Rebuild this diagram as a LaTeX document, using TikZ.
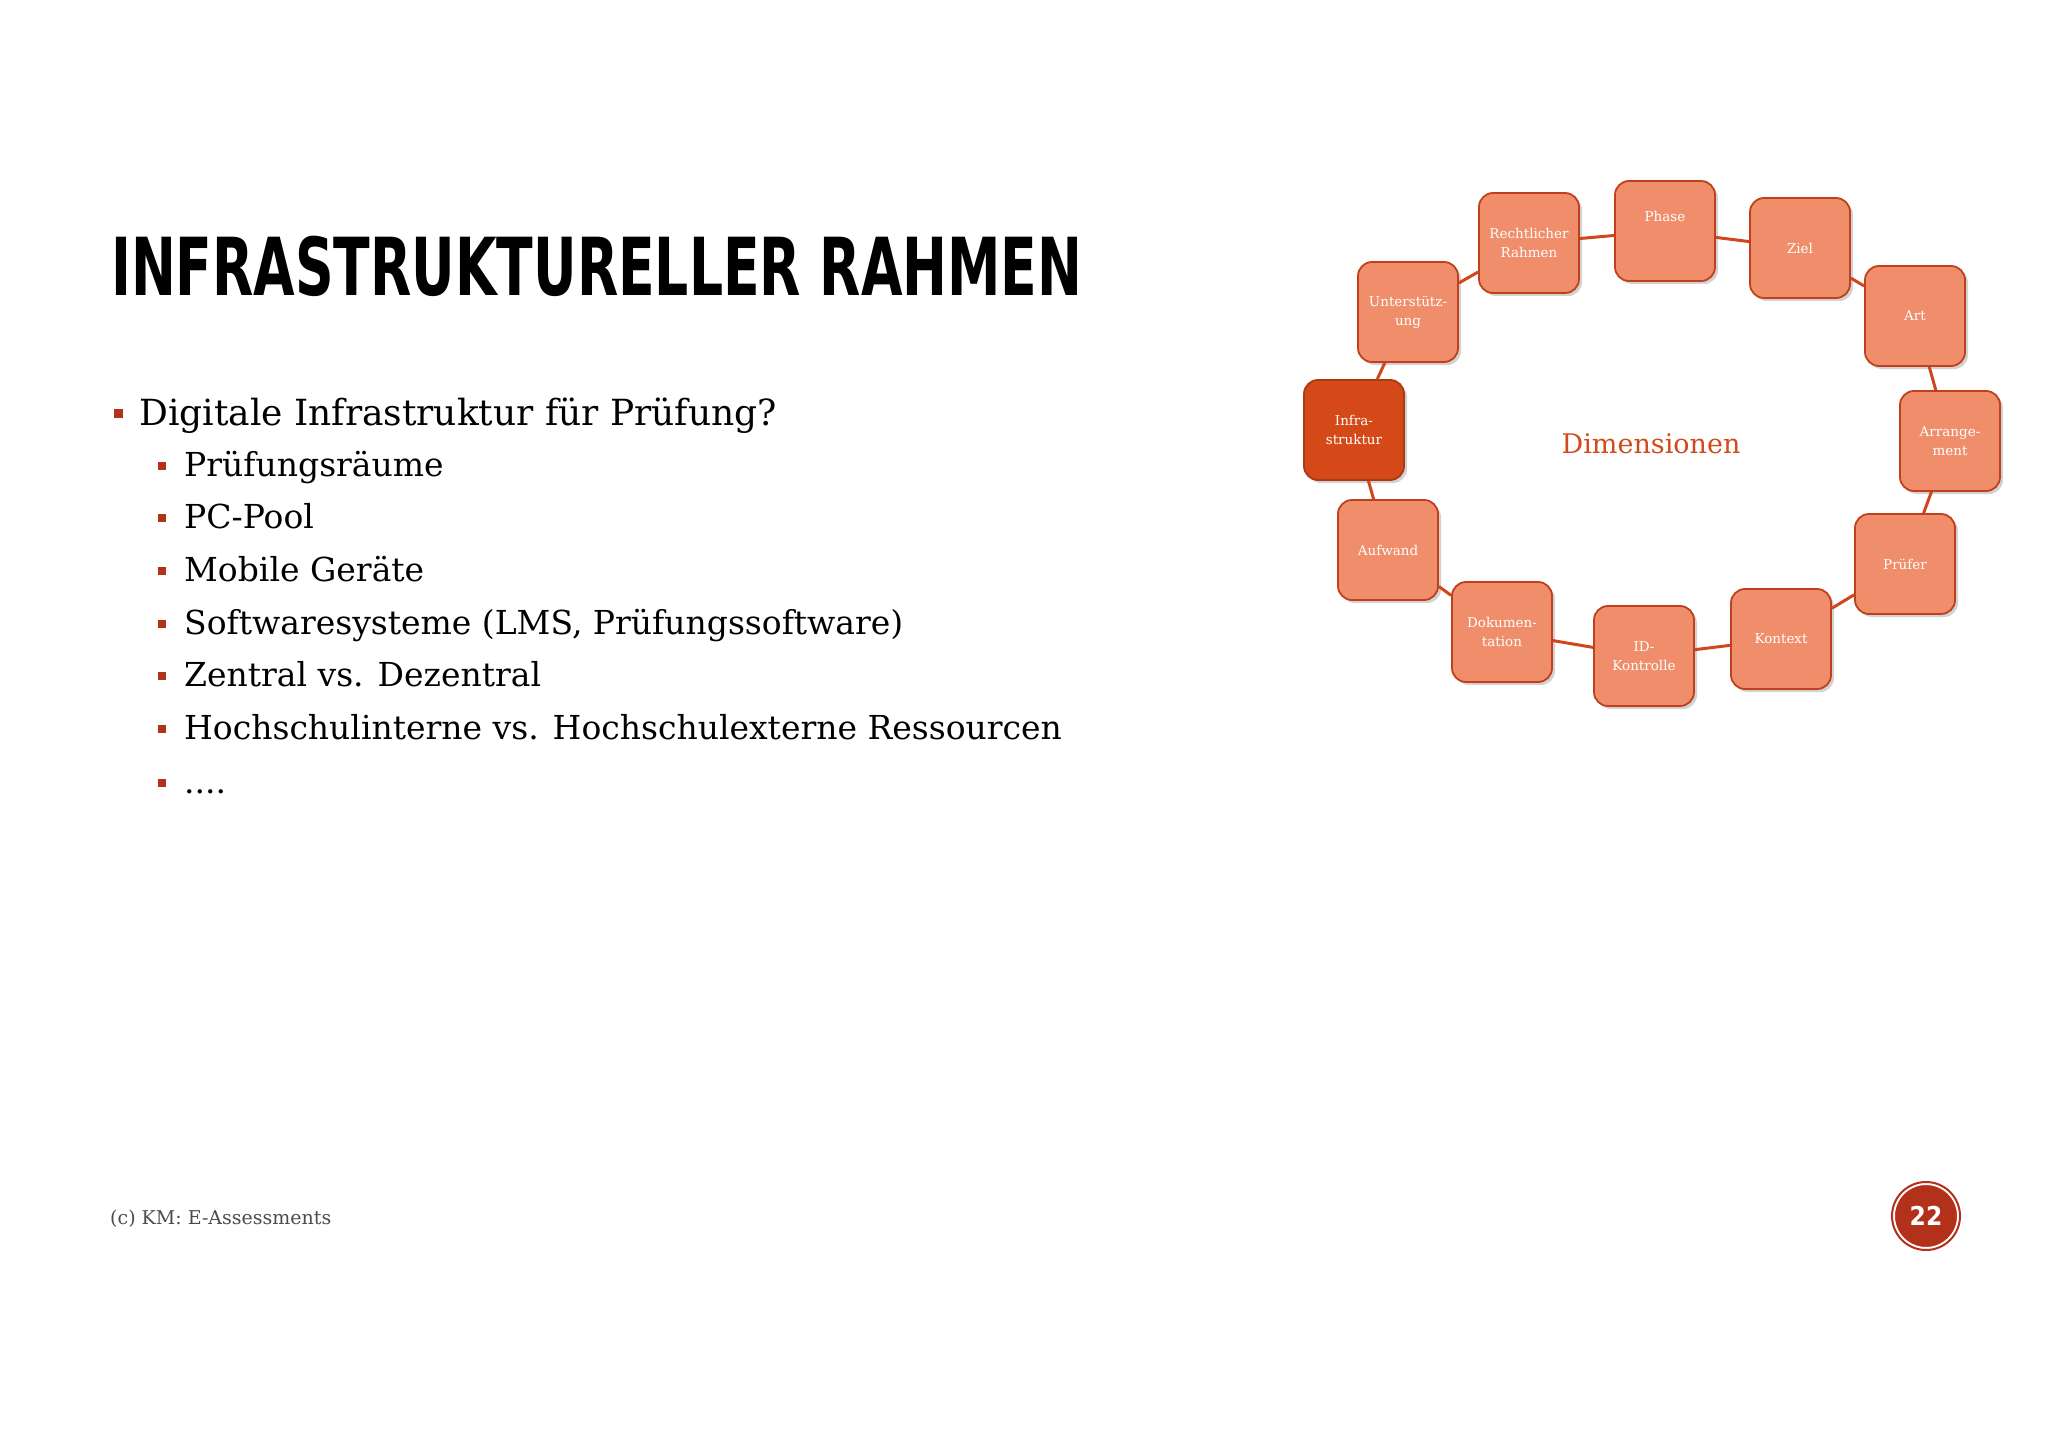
\documentclass[tikz,border=0pt]{standalone}
\usepackage{fontspec}
\setmainfont{DejaVu Serif}
\newfontfamily\titlefont{DejaVu Sans Condensed}
\usetikzlibrary{shadows}
\definecolor{nodefill}{HTML}{F08E6B}
\definecolor{nodeline}{HTML}{C0401E}
\definecolor{hifill}{HTML}{D54818}
\definecolor{conn}{HTML}{D0471B}
\definecolor{dimc}{HTML}{D04A1C}
\definecolor{pagec}{HTML}{B3301A}
\tikzset{
 dim/.style={draw=nodeline,line width=1.8pt,fill=nodefill,rounded corners=14pt,minimum width=100pt,minimum height=100pt,text=white,align=center,font=\fontsize{13.5}{19}\selectfont,drop shadow={shadow xshift=3pt,shadow yshift=-3pt,opacity=0.35}},
 hidim/.style={dim,fill=hifill,draw=hifill!80!black},
 link/.style={draw=conn,line width=3pt},
 bul/.style={fill=pagec,minimum size=9pt,inner sep=0pt},
 lvone/.style={anchor=base west,font=\fontsize{36}{44}\selectfont},
 lvtwo/.style={anchor=base west,font=\fontsize{33}{40}\selectfont}
}
\begin{document}
\begin{tikzpicture}[x=1pt,y=-1pt]
\useasboundingbox[fill=white] (0,0) rectangle (2048,1447);
\node[anchor=base west,inner sep=0pt,font=\titlefont\bfseries\fontsize{80}{80}\selectfont,xscale=0.745] (title) at (111,296) {INFRASTRUKTURELLER RAHMEN};
\node[bul] (b0) at (118,413) {};
\node[lvone,inner sep=0pt] (t0) at (139,425) {Digitale Infrastruktur für Prüfung?};
\foreach \y/\t [count=\i] in {476/Prüfungsräume,528/PC-Pool,581/Mobile Geräte,634/{Softwaresysteme (LMS, Prüfungssoftware)},686/Zentral vs. Dezentral,739/Hochschulinterne vs. Hochschulexterne Ressourcen,793/{{....}}}{
 \node[bul,minimum size=8pt] (bb\i) at (162,\y-10) {};
 \node[lvtwo,inner sep=0pt] (tt\i) at (184,\y) {\t};
}
\node[anchor=base west,inner sep=0pt,text=black!70,font=\fontsize{19}{24}\selectfont] (foot) at (110,1224) {(c) KM: E-Assessments};
\node[circle,fill=pagec,draw=white,line width=2pt,minimum size=68pt,double=pagec,double distance=2pt,text=white,font=\titlefont\bfseries\fontsize{26}{26}\selectfont] (page) at (1926,1216) {22};
\node[text=dimc,font=\fontsize{27}{34}\selectfont] (dimt) at (1651,444) {Dimensionen};
\node[dim] (recht) at (1529,243) {Rechtlicher\\Rahmen};
\node[dim] (phase) at (1665,231) {Phase\\[10pt]};
\node[dim] (ziel) at (1800,248) {Ziel};
\node[dim] (art) at (1915,316) {Art};
\node[dim] (arr) at (1950,441) {Arrange-\\ment};
\node[dim] (pruef) at (1905,564) {Prüfer};
\node[dim] (kon) at (1781,639) {Kontext};
\node[dim] (idk) at (1644,656) {ID-\\Kontrolle};
\node[dim] (dok) at (1502,632) {Dokumen-\\tation};
\node[dim] (auf) at (1388,550) {Aufwand};
\node[hidim] (infra) at (1354,430) {Infra-\\struktur};
\node[dim] (unter) at (1408,312) {Unterstütz-\\ung};
\foreach \a/\b in {infra/unter,unter/recht,recht/phase,phase/ziel,ziel/art,art/arr,arr/pruef,pruef/kon,kon/idk,idk/dok,dok/auf,auf/infra}
 \draw[link] (\a) -- (\b);
\end{tikzpicture}
\end{document}
